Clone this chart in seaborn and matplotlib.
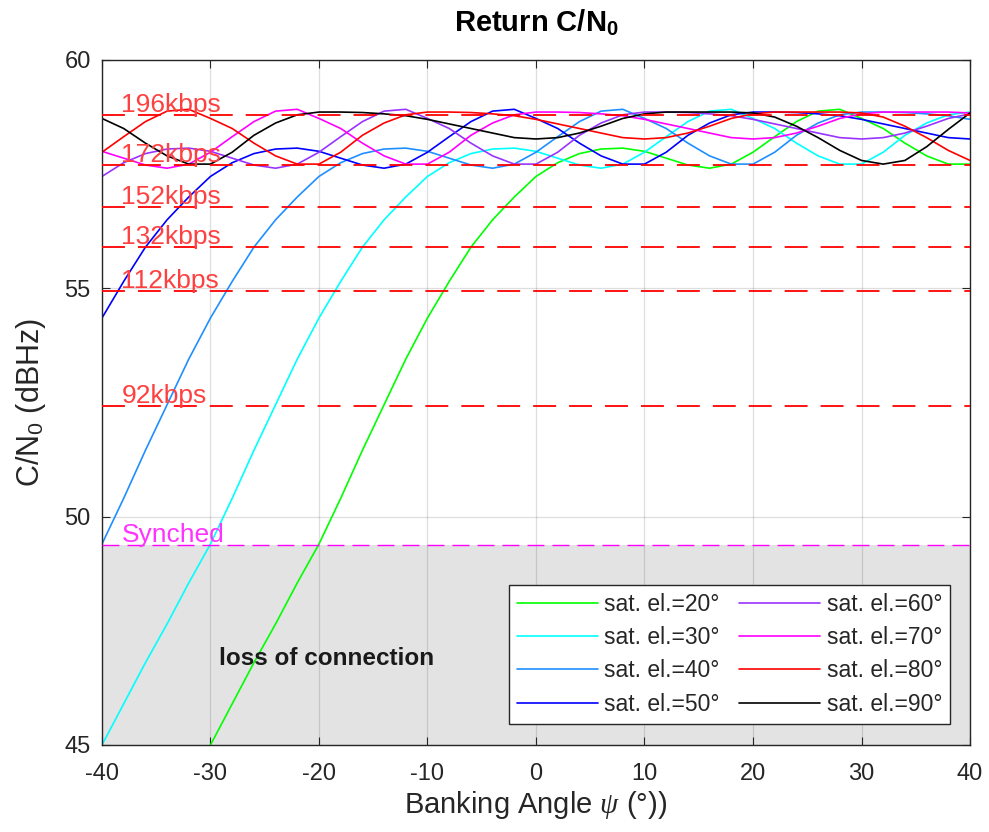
import numpy as np
import pandas as pd
import matplotlib
matplotlib.use("Agg")
from matplotlib import pyplot as plt
import seaborn as sns

# banking angle grid (deg) and C/N0 per satellite elevation
banking = list(range(-40, 42, 2))
elevations = [20, 30, 40, 50, 60, 70, 80, 90]

cn0_el20 = [np.nan] * 5 + [
    45.00, 45.90, 46.80, 47.65, 48.55, 49.40, 50.40, 51.45, 52.45, 53.45,
    54.35, 55.15, 55.90, 56.50, 57.00, 57.45, 57.75, 57.95, 58.05, 58.07,
    58.00, 57.85, 57.70, 57.63, 57.72, 57.98, 58.32, 58.65, 58.88, 58.92,
    58.72, 58.50, 58.18, 57.90, 57.72, 57.72]
cn0_el30 = [
    45.00, 45.90, 46.80, 47.65, 48.55, 49.40, 50.40, 51.45, 52.45, 53.45,
    54.35, 55.15, 55.90, 56.50, 57.00, 57.45, 57.75, 57.95, 58.05, 58.07,
    58.00, 57.85, 57.70, 57.63, 57.72, 57.98, 58.32, 58.65, 58.88, 58.92,
    58.72, 58.50, 58.18, 57.90, 57.72, 57.72, 57.98, 58.35, 58.62, 58.80,
    58.86]
cn0_el40 = [
    49.40, 50.40, 51.45, 52.45, 53.45, 54.35, 55.15, 55.90, 56.50, 57.00,
    57.45, 57.75, 57.95, 58.05, 58.07, 58.00, 57.85, 57.70, 57.63, 57.72,
    57.98, 58.32, 58.65, 58.88, 58.92, 58.72, 58.50, 58.18, 57.90, 57.72,
    57.72, 57.98, 58.35, 58.62, 58.80, 58.86, 58.86, 58.85, 58.82, 58.78,
    58.70]
cn0_el50 = [
    54.35, 55.15, 55.90, 56.50, 57.00, 57.45, 57.75, 57.95, 58.05, 58.07,
    58.00, 57.85, 57.70, 57.63, 57.72, 57.98, 58.32, 58.65, 58.88, 58.92,
    58.72, 58.50, 58.18, 57.90, 57.72, 57.72, 57.98, 58.35, 58.62, 58.80,
    58.86, 58.86, 58.85, 58.82, 58.78, 58.70, 58.60, 58.50, 58.40, 58.30,
    58.27]
cn0_el60 = [
    57.45, 57.75, 57.95, 58.05, 58.07, 58.00, 57.85, 57.70, 57.63, 57.72,
    57.98, 58.32, 58.65, 58.88, 58.92, 58.72, 58.50, 58.18, 57.90, 57.72,
    57.72, 57.98, 58.35, 58.62, 58.80, 58.86, 58.86, 58.85, 58.82, 58.78,
    58.70, 58.60, 58.50, 58.40, 58.30, 58.27, 58.30, 58.40, 58.55, 58.72,
    58.82]
cn0_el70 = [
    58.00, 57.85, 57.70, 57.63, 57.72, 57.98, 58.32, 58.65, 58.88, 58.92,
    58.72, 58.50, 58.18, 57.90, 57.72, 57.72, 57.98, 58.35, 58.62, 58.80,
    58.86, 58.86, 58.85, 58.82, 58.78, 58.70, 58.60, 58.50, 58.40, 58.30,
    58.27, 58.30, 58.40, 58.55, 58.72, 58.82, 58.86, 58.86, 58.86, 58.86,
    58.84]
cn0_el80 = [
    57.98, 58.32, 58.65, 58.88, 58.92, 58.72, 58.50, 58.18, 57.90, 57.72,
    57.72, 57.98, 58.35, 58.62, 58.80, 58.86, 58.86, 58.85, 58.82, 58.78,
    58.70, 58.60, 58.50, 58.40, 58.30, 58.27, 58.30, 58.40, 58.55, 58.72,
    58.82, 58.86, 58.86, 58.86, 58.86, 58.84, 58.75, 58.55, 58.30, 58.02,
    57.80]
cn0_el90 = [
    58.72, 58.50, 58.18, 57.90, 57.72, 57.72, 57.98, 58.35, 58.62, 58.80,
    58.86, 58.86, 58.85, 58.82, 58.78, 58.70, 58.60, 58.50, 58.40, 58.30,
    58.27, 58.30, 58.40, 58.55, 58.72, 58.82, 58.86, 58.86, 58.86, 58.86,
    58.84, 58.75, 58.55, 58.30, 58.02, 57.80, 57.72, 57.80, 58.10, 58.48,
    58.84]
cn0_series = [cn0_el20, cn0_el30, cn0_el40, cn0_el50,
              cn0_el60, cn0_el70, cn0_el80, cn0_el90]

# data-rate thresholds (dBHz)
rate_labels = ['196kbps', '172kbps', '152kbps', '132kbps', '112kbps', '92kbps']
rate_cn0 = [58.80, 57.70, 56.78, 55.90, 54.94, 52.42]
synch_label = 'Synched'
synch_cn0 = 49.38

line_colors = ['#00ff00', '#00ffff', '#1e8fff', '#0000ff',
               '#9933ff', '#ff00ff', '#ff0000', '#000000']

records = []
for el, vals in zip(elevations, cn0_series):
    for b, v in zip(banking, vals):
        records.append({'banking': b, 'cn0': v, 'label': f'sat. el.={el}°'})
df = pd.DataFrame.from_records(records).dropna()

sns.set_theme(style='whitegrid')
plt.rcParams['font.family'] = ['Liberation Sans', 'DejaVu Sans']
plt.rcParams['mathtext.fontset'] = 'custom'
plt.rcParams['mathtext.rm'] = 'Liberation Sans'
plt.rcParams['mathtext.it'] = 'Liberation Serif:italic'
plt.rcParams['mathtext.bf'] = 'Liberation Sans:bold'
plt.rcParams['axes.unicode_minus'] = False

fig = plt.figure(figsize=(9.89, 8.32), dpi=100)
ax = fig.add_axes([0.1031, 0.1046, 0.8777, 0.8233])
ax.set_facecolor('white')

# loss of connection area
ax.axhspan(45, synch_cn0, color='#e3e3e3', zorder=0.2, lw=0)

sns.lineplot(data=df, x='banking', y='cn0', hue='label', palette=line_colors,
             estimator=None, sort=False, linewidth=1.2, ax=ax, zorder=2)

for lab, val in zip(rate_labels, rate_cn0):
    ax.axhline(val, color='red', lw=1.3, linestyle=(0, (12.7, 7.2)), zorder=3)
    ax.text(-38.2, val + 0.22, lab, color=(1, 0.25, 0.25), fontsize=19,
            va='center', ha='left', zorder=4)
ax.axhline(synch_cn0, color='#ff00ff', lw=1.0, linestyle=(0, (12.2, 5.8)), zorder=3)
ax.text(-38.2, synch_cn0 + 0.22, synch_label, color='#ff33ff', fontsize=19,
        va='center', ha='left', zorder=4)
ax.text(-19.3, 46.9, 'loss of connection', fontsize=17.5, fontweight='bold',
        color='0.1', ha='center', va='center')

ax.set_xlim(-40, 40)
ax.set_ylim(45, 60)
ax.set_xticks(range(-40, 41, 10))
ax.set_yticks([45, 50, 55, 60])
ax.grid(True, color='0.15', alpha=0.15, lw=0.9)
for sp in ax.spines.values():
    sp.set_visible(True)
    sp.set_color('0.15')
    sp.set_linewidth(1.0)
ax.tick_params(direction='in', top=True, right=True, bottom=True, left=True,
               length=6, width=0.8, color='0.15', labelcolor='0.15',
               labelsize=17)
ax.tick_params(axis='x', pad=13)
ax.tick_params(axis='y', pad=8)

ax.set_xlabel(r'Banking Angle $\psi$ (°))', fontsize=21, color='0.15',
              labelpad=3)
ax.set_ylabel(r'C/N$_0$ (dBHz)', fontsize=22, color='0.15', labelpad=12)
ax.set_title(r'Return C/N$_{\mathbf{0}}$', fontsize=21, fontweight='bold',
             color='black', pad=20)

handles, labels = ax.get_legend_handles_labels()
leg = ax.legend(handles, labels, ncol=2, loc='lower right',
                bbox_to_anchor=(0.977, 0.031), borderaxespad=0, fontsize=16.5,
                frameon=True, fancybox=False, framealpha=1, edgecolor='0.15',
                handlelength=3.5, handletextpad=0.3, columnspacing=0.85,
                labelspacing=0.45, borderpad=0.35)
leg.get_frame().set_linewidth(1.0)
for t in leg.get_texts():
    t.set_color('0.15')

fig.savefig('out.png', dpi=100)
